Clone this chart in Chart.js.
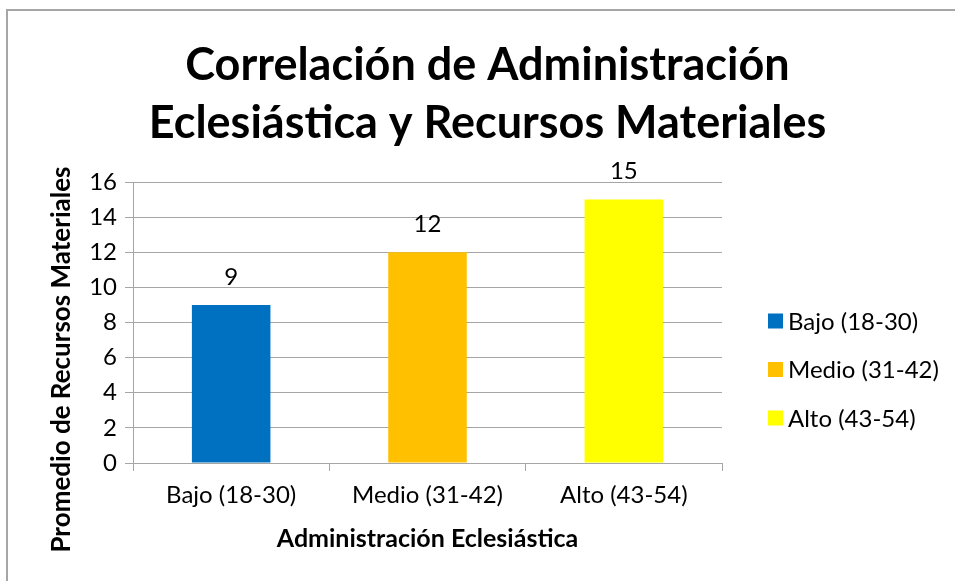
<!DOCTYPE html>
<html>
<head>
<meta charset="utf-8">
<script src="https://cdn.jsdelivr.net/npm/chart.js@4.4.1/dist/chart.umd.min.js"></script>
<style>
  html, body { margin: 0; padding: 0; background: #fff; }
  #wrap { position: relative; width: 955px; height: 581px; }
</style>
</head>
<body>
<div id="wrap"><canvas id="myChart" width="955" height="581"></canvas></div>
<script>
// chart data
const categories = ['Bajo (18-30)', 'Medio (31-42)', 'Alto (43-54)'];
const values = [9, 12, 15];
const barColors = ['#0070C0', '#FFC000', '#FFFF00'];
const yTicks = [0, 2, 4, 6, 8, 10, 12, 14, 16];
const yTitle = 'Promedio de Recursos Materiales';

const FONT = 'Lato, Calibri, Carlito, sans-serif';

// frame line on top and left, like the Excel chart border
const framePlugin = {
  id: 'frame',
  beforeDraw(chart) {
    const ctx = chart.ctx;
    ctx.save();
    ctx.strokeStyle = '#a6a6a6';
    ctx.lineWidth = 2;
    ctx.beginPath();
    ctx.moveTo(7, chart.height + 5);
    ctx.lineTo(7, 10);
    ctx.lineTo(chart.width + 5, 10);
    ctx.stroke();
    ctx.restore();
  }
};

// value labels on top of bars
const valueLabels = {
  id: 'valueLabels',
  afterDatasetsDraw(chart) {
    const ctx = chart.ctx;
    const meta = chart.getDatasetMeta(0);
    ctx.save();
    ctx.font = '24px ' + FONT;
    ctx.fillStyle = '#000';
    ctx.textAlign = 'center';
    ctx.textBaseline = 'middle';
    meta.data.forEach((bar, i) => {
      ctx.fillText(values[i], bar.x, bar.y - 28);
    });
    ctx.restore();
  }
};

// y axis title: Excel puts it a bit lower than the plot centre
const yTitlePlugin = {
  id: 'yTitle',
  afterDraw(chart) {
    const ctx = chart.ctx;
    const area = chart.chartArea;
    ctx.save();
    ctx.translate(62, (area.top + area.bottom) / 2 + 37);
    ctx.rotate(-Math.PI / 2);
    ctx.font = 'bold 26px ' + FONT;
    ctx.fillStyle = '#000';
    ctx.textAlign = 'center';
    ctx.textBaseline = 'middle';
    ctx.fillText(yTitle, 0, 0);
    ctx.restore();
  }
};

// legend at the right, one entry per category (Excel "vary colors by point")
const sideLegend = {
  id: 'sideLegend',
  afterDraw(chart) {
    const ctx = chart.ctx;
    const area = chart.chartArea;
    const x = area.right + 46;
    const y0 = (area.top + area.bottom) / 2 - 1.5;
    ctx.save();
    ctx.font = '24px ' + FONT;
    ctx.textBaseline = 'middle';
    ctx.textAlign = 'left';
    categories.forEach((c, i) => {
      const y = y0 + i * 48.5;
      ctx.fillStyle = barColors[i];
      ctx.fillRect(x, y - 7.5, 15, 15);
      ctx.fillStyle = '#000';
      ctx.fillText(c, x + 20, y + 1);
    });
    ctx.restore();
  }
};

const ctx = document.getElementById('myChart').getContext('2d');
new Chart(ctx, {
  type: 'bar',
  data: {
    labels: categories,
    datasets: [{
      data: values,
      backgroundColor: barColors,
      borderWidth: 0,
      categoryPercentage: 1.0,
      barPercentage: 0.4
    }]
  },
  options: {
    responsive: false,
    animation: false,
    layout: { padding: { left: 20, right: 0, top: 36, bottom: 0 } },
    plugins: {
      tooltip: { enabled: false },
      legend: { display: false },
      title: {
        display: true,
        text: ['Correlación de Administración', 'Eclesiástica y Recursos Materiales'],
        color: '#000',
        font: { family: FONT, size: 45, weight: 'bold', lineHeight: 1.3 },
        padding: { top: 0, bottom: 29 }
      }
    },
    scales: {
      x: {
        afterFit(scale) { scale.height = 118; },
        grid: {
          drawOnChartArea: false,
          drawTicks: true,
          tickLength: 8,
          color: '#a6a6a6'
        },
        border: { color: '#a6a6a6' },
        ticks: { color: '#000', font: { family: FONT, size: 24 }, padding: 10 },
        title: {
          display: true,
          text: 'Administración Eclesiástica',
          color: '#000',
          font: { family: FONT, size: 25, weight: 'bold' },
          padding: { top: 0, bottom: 27 }
        }
      },
      y: {
        min: 0,
        max: 16,
        afterFit(scale) { scale.width = 113; },
        afterBuildTicks(scale) { scale.ticks = yTicks.map(v => ({ value: v })); },
        grid: { color: '#a6a6a6', tickLength: 8 },
        border: { color: '#a6a6a6' },
        ticks: { color: '#000', font: { family: FONT, size: 24 }, padding: 8 }
      },
      // empty space on the right that holds the legend
      legendSpace: {
        position: 'right',
        display: true,
        afterFit(scale) { scale.width = 233; },
        grid: { display: false },
        border: { display: false },
        ticks: { display: false }
      }
    }
  },
  plugins: [framePlugin, valueLabels, yTitlePlugin, sideLegend]
});
</script>
</body>
</html>
